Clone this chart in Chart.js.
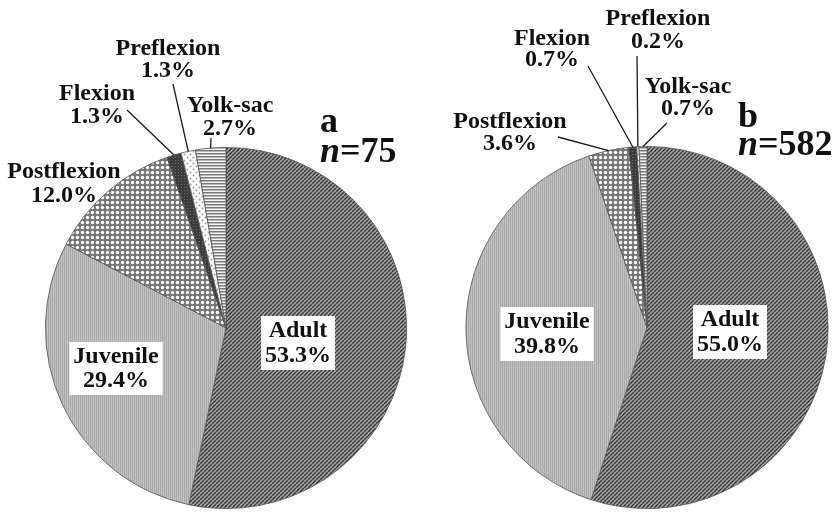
<!DOCTYPE html>
<html>
<head>
<meta charset="utf-8">
<script src="https://cdn.jsdelivr.net/npm/chart.js@4.4.1/dist/chart.umd.min.js"></script>
<style>
  html, body { margin: 0; padding: 0; background: #fff; }
  #wrap { position: relative; width: 835px; height: 512px; overflow: hidden; }
  .box { position: absolute; top: 0; height: 512px; }
  #boxA { left: 0; width: 418px; }
  #boxB { left: 418px; width: 417px; }
</style>
</head>
<body>
<div id="wrap">
  <div class="box" id="boxA"><canvas id="chartA"></canvas></div>
  <div class="box" id="boxB"><canvas id="chartB"></canvas></div>
</div>
<script>
// ---------- DATA ----------
const stages = ["Adult", "Juvenile", "Postflexion", "Flexion", "Preflexion", "Yolk-sac"];
const valuesA = [53.3, 29.4, 12.0, 1.3, 1.3, 2.7];
const valuesB = [55.0, 39.8, 3.6, 0.7, 0.2, 0.7];
const panelA = { letter: "a", n: 75 };
const panelB = { letter: "b", n: 582 };

// ---------- PATTERNS ----------
function makePattern(size, draw) {
  const c = document.createElement('canvas');
  c.width = size; c.height = size;
  const g = c.getContext('2d');
  draw(g, size);
  return g.createPattern(c, 'repeat');
}
const patAdult = makePattern(4, (g, s) => {
  g.fillStyle = '#a4a4a4'; g.fillRect(0, 0, s, s);
  g.strokeStyle = '#3a3a3a'; g.lineWidth = 1.4;
  for (let k = -1; k <= 1; k++) {
    g.beginPath(); g.moveTo(k * s, s); g.lineTo(k * s + s, 0); g.stroke();
  }
});
const patJuvenile = makePattern(2, (g, s) => {
  g.fillStyle = '#c0c0c0'; g.fillRect(0, 0, s, s);
  g.fillStyle = '#aaaaaa'; g.fillRect(0, 0, 1, s);
});
const patPost = makePattern(5, (g, s) => {
  g.fillStyle = '#767676'; g.fillRect(0, 0, s, s);
  g.fillStyle = '#ffffff';
  g.beginPath(); g.arc(2.5, 2.5, 1.7, 0, Math.PI * 2); g.fill();
});
const patFlexion = makePattern(3, (g, s) => {
  g.fillStyle = '#3c3c3c'; g.fillRect(0, 0, s, s);
  g.fillStyle = '#6a6a6a'; g.fillRect(1, 1, 1, 1);
});
const patPre = makePattern(6, (g, s) => {
  g.fillStyle = '#ffffff'; g.fillRect(0, 0, s, s);
  g.fillStyle = '#9a9a9a';
  g.beginPath(); g.arc(1.5, 1.5, 1.0, 0, Math.PI * 2); g.fill();
  g.beginPath(); g.arc(4.5, 4.5, 1.0, 0, Math.PI * 2); g.fill();
});
const patYolk = makePattern(3, (g, s) => {
  g.fillStyle = '#f4f4f4'; g.fillRect(0, 0, s, s);
  g.fillStyle = '#7c7c7c'; g.fillRect(0, 0, s, 1.5);
});
const patterns = [patAdult, patJuvenile, patPost, patFlexion, patPre, patYolk];

// ---------- LABEL LAYOUT (pixel positions within each canvas) ----------
// per slice: [x center, first baseline, line gap, boxed, leader start x, leader start y]
const layoutA = [
  [298, 337, 25, true, null, null],
  [116, 363, 24, true, null, null],
  [64, 178, 24, false, null, null],
  [97, 100, 23, false, 127, 110],
  [168, 55, 22, false, 173, 84],
  [230, 112, 23, false, 211, 138]
];
const layoutB = [
  [730 - 418, 326, 25, true, null, null],
  [547 - 418, 328, 25, true, null, null],
  [510 - 418, 128, 22, false, 558 - 418, 137],
  [552 - 418, 45, 21, false, 588 - 418, 66],
  [658 - 418, 25, 23, false, 637 - 418, 56],
  [688 - 418, 93, 22, false, 667 - 418, 123]
];
const tagA = { x: 320, y1: 132, y2: 162 };
const tagB = { x: 738 - 418, y1: 127, y2: 155 };

const FONT = '"Liberation Serif", "Times New Roman", serif';

const labelPlugin = {
  id: 'pieLabels',
  afterDatasetsDraw(chart, args, opts) {
    const ctx = chart.ctx;
    const meta = chart.getDatasetMeta(0);
    const vals = chart.data.datasets[0].data;
    const labels = chart.data.labels;
    ctx.save();
    meta.data.forEach((arc, i) => {
      const L = opts.layout[i];
      const p = arc.getProps(['x', 'y', 'startAngle', 'endAngle', 'outerRadius'], true);
      const mid = (p.startAngle + p.endAngle) / 2;
      if (L[4] !== null) {
        const ex = p.x + Math.cos(mid) * p.outerRadius;
        const ey = p.y + Math.sin(mid) * p.outerRadius;
        ctx.strokeStyle = '#1a1a1a';
        ctx.lineWidth = 1.3;
        ctx.beginPath();
        ctx.moveTo(L[4], L[5]);
        ctx.lineTo(ex, ey);
        ctx.stroke();
      }
      const lines = [labels[i], vals[i].toFixed(1) + '%'];
      ctx.font = 'bold 24px ' + FONT;
      ctx.textAlign = 'center';
      ctx.textBaseline = 'alphabetic';
      if (L[3]) {
        const w = Math.max(...lines.map(t => ctx.measureText(t).width)) + 8;
        const top = L[1] - 21;
        const h = L[2] + 29;
        ctx.fillStyle = '#ffffff';
        ctx.fillRect(L[0] - w / 2, top, w, h);
      }
      ctx.fillStyle = '#111111';
      lines.forEach((t, k) => ctx.fillText(t, L[0], L[1] + k * L[2]));
    });
    const T = opts.tag;
    ctx.textAlign = 'left';
    ctx.fillStyle = '#111111';
    ctx.font = 'bold 36px ' + FONT;
    ctx.fillText(opts.panel.letter, T.x, T.y1);
    ctx.font = 'italic bold 36px ' + FONT;
    ctx.fillText('n', T.x, T.y2);
    const nw = ctx.measureText('n').width;
    ctx.font = 'bold 36px ' + FONT;
    ctx.fillText('=' + opts.panel.n, T.x + nw, T.y2);
    ctx.restore();
  }
};

function makeChart(id, values, layout, tag, panel, padding) {
  return new Chart(document.getElementById(id), {
    type: 'pie',
    data: {
      labels: stages,
      datasets: [{
        data: values,
        backgroundColor: patterns,
        borderColor: '#555555',
        borderWidth: 0.8
      }]
    },
    options: {
      responsive: true,
      maintainAspectRatio: false,
      animation: false,
      layout: { padding: padding },
      plugins: {
        legend: { display: false },
        tooltip: { enabled: false },
        pieLabels: { layout: layout, tag: tag, panel: panel }
      }
    },
    plugins: [labelPlugin]
  });
}

makeChart('chartA', valuesA, layoutA, tagA, panelA, { left: 45, right: 11, top: 147, bottom: 3 });
makeChart('chartB', valuesB, layoutB, tagB, panelB, { left: 47, right: 6, top: 146, bottom: 3 });
</script>
</body>
</html>
